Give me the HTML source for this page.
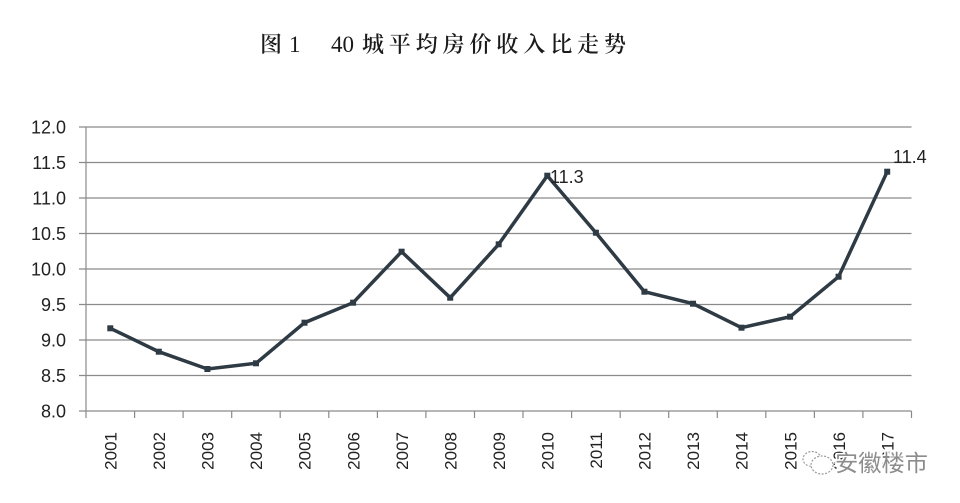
<!DOCTYPE html>
<html>
<head>
<meta charset="utf-8">
<style>
html,body{margin:0;padding:0;background:#fff;}
svg{display:block;}
</style>
</head>
<body>
<svg width="960" height="503" viewBox="0 0 960 503" xmlns="http://www.w3.org/2000/svg">
<rect x="0" y="0" width="960" height="503" fill="#ffffff"/>
<!-- title -->
<g font-family="'Liberation Serif','Noto Serif CJK SC',serif" font-size="22" fill="#1a1a1a">
<text x="260" y="52" font-weight="600">图</text>
<text x="289" y="52" font-size="23">1</text>
<text x="331" y="52" font-size="23">40</text>
<text x="362" y="52" font-weight="600" textLength="264" lengthAdjust="spacing">城平均房价收入比走势</text>
</g>
<!-- gridlines -->
<g stroke="#8a8a8a" stroke-width="1.2" fill="none">
<line x1="79" y1="127" x2="911.5" y2="127"/>
<line x1="79" y1="162.5" x2="911.5" y2="162.5"/>
<line x1="79" y1="198" x2="911.5" y2="198"/>
<line x1="79" y1="233.5" x2="911.5" y2="233.5"/>
<line x1="79" y1="269" x2="911.5" y2="269"/>
<line x1="79" y1="304.5" x2="911.5" y2="304.5"/>
<line x1="79" y1="340" x2="911.5" y2="340"/>
<line x1="79" y1="375.5" x2="911.5" y2="375.5"/>
<line x1="79" y1="411" x2="911.5" y2="411"/>
<line x1="86" y1="127" x2="86" y2="418"/>
<line x1="134.6" y1="411" x2="134.6" y2="418"/>
<line x1="183.1" y1="411" x2="183.1" y2="418"/>
<line x1="231.7" y1="411" x2="231.7" y2="418"/>
<line x1="280.2" y1="411" x2="280.2" y2="418"/>
<line x1="328.8" y1="411" x2="328.8" y2="418"/>
<line x1="377.4" y1="411" x2="377.4" y2="418"/>
<line x1="425.9" y1="411" x2="425.9" y2="418"/>
<line x1="474.5" y1="411" x2="474.5" y2="418"/>
<line x1="523.0" y1="411" x2="523.0" y2="418"/>
<line x1="571.6" y1="411" x2="571.6" y2="418"/>
<line x1="620.2" y1="411" x2="620.2" y2="418"/>
<line x1="668.7" y1="411" x2="668.7" y2="418"/>
<line x1="717.3" y1="411" x2="717.3" y2="418"/>
<line x1="765.8" y1="411" x2="765.8" y2="418"/>
<line x1="814.4" y1="411" x2="814.4" y2="418"/>
<line x1="862.9" y1="411" x2="862.9" y2="418"/>
<line x1="911.5" y1="411" x2="911.5" y2="418"/>
</g>
<!-- y labels -->
<g font-family="'Liberation Sans',sans-serif" font-size="18" fill="#222" text-anchor="end">
<text x="66" y="133.5">12.0</text>
<text x="66" y="169">11.5</text>
<text x="66" y="204.5">11.0</text>
<text x="66" y="240">10.5</text>
<text x="66" y="275.5">10.0</text>
<text x="66" y="311">9.5</text>
<text x="66" y="346.5">9.0</text>
<text x="66" y="382">8.5</text>
<text x="66" y="417.5">8.0</text>
</g>
<!-- x labels -->
<g font-family="'Liberation Sans',sans-serif" font-size="17" fill="#222" text-anchor="end">
<text transform="translate(116.5,432) rotate(-90)">2001</text>
<text transform="translate(165.0,432) rotate(-90)">2002</text>
<text transform="translate(213.6,432) rotate(-90)">2003</text>
<text transform="translate(262.2,432) rotate(-90)">2004</text>
<text transform="translate(310.7,432) rotate(-90)">2005</text>
<text transform="translate(359.3,432) rotate(-90)">2006</text>
<text transform="translate(407.8,432) rotate(-90)">2007</text>
<text transform="translate(456.4,432) rotate(-90)">2008</text>
<text transform="translate(504.9,432) rotate(-90)">2009</text>
<text transform="translate(553.5,432) rotate(-90)">2010</text>
<text transform="translate(602.1,432) rotate(-90)">2011</text>
<text transform="translate(650.6,432) rotate(-90)">2012</text>
<text transform="translate(699.2,432) rotate(-90)">2013</text>
<text transform="translate(747.7,432) rotate(-90)">2014</text>
<text transform="translate(796.3,432) rotate(-90)">2015</text>
<text transform="translate(844.8,432) rotate(-90)">2016</text>
<text transform="translate(893.4,432) rotate(-90)">2017</text>
</g>
<!-- series -->
<polyline fill="none" stroke="#2e3a44" stroke-width="3.5" stroke-linejoin="miter"
points="110.3,328.3 158.8,351.7 207.4,369 256,363.3 304.5,322.7 353.1,302.7 401.6,251.7 450.2,297.7 498.7,244.3 547.3,175.7 595.9,232.7 644.4,291.7 693,303.7 741.5,327.7 790.1,316.7 838.6,276.7 887.2,171.7"/>
<g fill="#2e3a44">
<rect x="107.3" y="325.3" width="6" height="6"/>
<rect x="155.8" y="348.7" width="6" height="6"/>
<rect x="204.4" y="366" width="6" height="6"/>
<rect x="253" y="360.3" width="6" height="6"/>
<rect x="301.5" y="319.7" width="6" height="6"/>
<rect x="350.1" y="299.7" width="6" height="6"/>
<rect x="398.6" y="248.7" width="6" height="6"/>
<rect x="447.2" y="294.7" width="6" height="6"/>
<rect x="495.7" y="241.3" width="6" height="6"/>
<rect x="544.3" y="172.7" width="6" height="6"/>
<rect x="592.9" y="229.7" width="6" height="6"/>
<rect x="641.4" y="288.7" width="6" height="6"/>
<rect x="690" y="300.7" width="6" height="6"/>
<rect x="738.5" y="324.7" width="6" height="6"/>
<rect x="787.1" y="313.7" width="6" height="6"/>
<rect x="835.6" y="273.7" width="6" height="6"/>
<rect x="884.2" y="168.7" width="6" height="6"/>
</g>
<!-- data labels -->
<g font-family="'Liberation Sans',sans-serif" font-size="18" fill="#222">
<text x="550" y="183">11.3</text>
<text x="893" y="163">11.4</text>
</g>
<!-- watermark -->
<g fill="none" stroke="#9a9a9a" stroke-width="1.2" stroke-dasharray="2,1.5">
<ellipse cx="812" cy="459" rx="9" ry="7.5" fill="#fff" stroke="#fff" stroke-width="4"/>
<ellipse cx="812" cy="459" rx="9" ry="7.5"/>
<ellipse cx="822" cy="465" rx="11" ry="9" fill="#fff" stroke="#fff" stroke-width="4"/>
<ellipse cx="822" cy="465" rx="11" ry="9"/>
</g>
<text x="835" y="471" font-family="'Liberation Sans','Noto Sans CJK SC',sans-serif" font-size="23" fill="#8c8c8c" stroke="#ffffff" stroke-width="3" paint-order="stroke" textLength="93" lengthAdjust="spacingAndGlyphs">安徽楼市</text>
</svg>
</body>
</html>
